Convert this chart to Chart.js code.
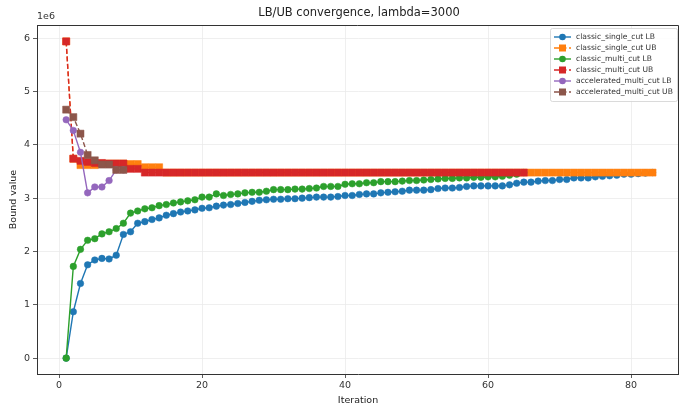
<!DOCTYPE html>
<html>
<head>
<meta charset="utf-8">
<title>LB/UB convergence</title>
<script src="https://cdn.jsdelivr.net/npm/chart.js@4.4.1/dist/chart.umd.min.js"></script>
<style>
  html, body { margin: 0; padding: 0; background: #fff; }
  canvas { display: block; }
</style>
</head>
<body>
<canvas id="grafico" width="679" height="409"></canvas>
<script>
// Bound values per iteration (units of 1e6), iterations start at 1
const singleLB = [
  0.00, 0.87, 1.40, 1.75, 1.84, 1.87, 1.86, 1.93, 2.32, 2.37,
  2.53, 2.56, 2.60, 2.63, 2.68, 2.71, 2.74, 2.76, 2.78, 2.81,
  2.82, 2.85, 2.87, 2.88, 2.90, 2.92, 2.94, 2.96, 2.97, 2.98,
  2.98, 2.99, 2.99, 3.00, 3.01, 3.02, 3.02, 3.02, 3.03, 3.05,
  3.05, 3.07, 3.08, 3.08, 3.10, 3.11, 3.12, 3.13, 3.15, 3.15,
  3.15, 3.16, 3.18, 3.19, 3.19, 3.20, 3.22, 3.23, 3.23, 3.23,
  3.23, 3.23, 3.25, 3.28, 3.30, 3.30, 3.32, 3.33, 3.33, 3.35,
  3.35, 3.38, 3.38, 3.38, 3.40, 3.41, 3.42, 3.43, 3.45, 3.45,
  3.46, 3.47, 3.48
];
const singleUB = [
  5.94, 3.74, 3.62, 3.62, 3.62, 3.65, 3.65, 3.65, 3.65, 3.64,
  3.64, 3.58, 3.58, 3.58, 3.48, 3.48, 3.48, 3.48, 3.48, 3.48,
  3.48, 3.48, 3.48, 3.48, 3.48, 3.48, 3.48, 3.48, 3.48, 3.48,
  3.48, 3.48, 3.48, 3.48, 3.48, 3.48, 3.48, 3.48, 3.48, 3.48,
  3.48, 3.48, 3.48, 3.48, 3.48, 3.48, 3.48, 3.48, 3.48, 3.48,
  3.48, 3.48, 3.48, 3.48, 3.48, 3.48, 3.48, 3.48, 3.48, 3.48,
  3.48, 3.48, 3.48, 3.48, 3.48, 3.48, 3.48, 3.48, 3.48, 3.48,
  3.48, 3.48, 3.48, 3.48, 3.48, 3.48, 3.48, 3.48, 3.48, 3.48,
  3.48, 3.48, 3.48
];
const multiLB = [
  0.00, 1.72, 2.04, 2.21, 2.24, 2.33, 2.37, 2.43, 2.53, 2.72,
  2.76, 2.80, 2.82, 2.86, 2.88, 2.91, 2.93, 2.95, 2.97, 3.02,
  3.02, 3.08, 3.05, 3.07, 3.08, 3.10, 3.11, 3.11, 3.13, 3.16,
  3.16, 3.16, 3.17, 3.17, 3.18, 3.19, 3.22, 3.22, 3.22, 3.26,
  3.27, 3.27, 3.29, 3.29, 3.31, 3.31, 3.31, 3.32, 3.33, 3.33,
  3.34, 3.35, 3.36, 3.37, 3.37, 3.38, 3.38, 3.39, 3.39, 3.40,
  3.40, 3.41, 3.43, 3.45, 3.48
];
const multiUB = [
  5.94, 3.74, 3.70, 3.68, 3.66, 3.66, 3.65, 3.65, 3.65, 3.55,
  3.55, 3.48, 3.48, 3.48, 3.48, 3.48, 3.48, 3.48, 3.48, 3.48,
  3.48, 3.48, 3.48, 3.48, 3.48, 3.48, 3.48, 3.48, 3.48, 3.48,
  3.48, 3.48, 3.48, 3.48, 3.48, 3.48, 3.48, 3.48, 3.48, 3.48,
  3.48, 3.48, 3.48, 3.48, 3.48, 3.48, 3.48, 3.48, 3.48, 3.48,
  3.48, 3.48, 3.48, 3.48, 3.48, 3.48, 3.48, 3.48, 3.48, 3.48,
  3.48, 3.48, 3.48, 3.48, 3.48
];
const accelLB = [4.47, 4.27, 3.86, 3.10, 3.21, 3.21, 3.33, 3.53, 3.53];
const accelUB = [4.66, 4.52, 4.21, 3.81, 3.71, 3.63, 3.63, 3.53, 3.53];

const xTicks = [0, 20, 40, 60, 80];
const yTicks = [0, 1, 2, 3, 4, 5, 6];

const FONT = "'DejaVu Sans', sans-serif";

// turns a list of bounds into {x: iteration, y: bound}
const pontos = (valores) => valores.map((v, i) => ({ x: i + 1, y: v }));

const serie = (label, valores, cor, tipo, ordem) => {
  const ub = tipo === 'UB';
  return {
    label: label,
    data: pontos(valores),
    borderColor: cor,
    backgroundColor: cor,
    borderWidth: 1.4,
    borderDash: ub ? [5, 2.5] : [],
    pointStyle: ub ? 'rect' : 'circle',
    pointRadius: ub ? 5 : 3.3,
    pointBackgroundColor: cor,
    pointBorderColor: cor,
    pointBorderWidth: 0.5,
    tension: 0,
    fill: false,
    order: ordem
  };
};

// title, offset text, top/right spines and the legend box
const extras = {
  id: 'extras',
  afterDraw(chart) {
    const { ctx, chartArea: a } = chart;
    ctx.save();

    ctx.strokeStyle = '#333';
    ctx.lineWidth = 1;
    ctx.beginPath();
    ctx.moveTo(a.left, a.top + 0.5);
    ctx.lineTo(a.right - 0.5, a.top + 0.5);
    ctx.lineTo(a.right - 0.5, a.bottom);
    ctx.stroke();

    ctx.fillStyle = '#222';
    ctx.font = `11.5px ${FONT}`;
    ctx.textAlign = 'center';
    ctx.textBaseline = 'middle';
    ctx.fillText('LB/UB convergence, lambda=3000', 359, 13);

    ctx.font = `9.5px ${FONT}`;
    ctx.textAlign = 'left';
    ctx.fillStyle = '#333';
    ctx.fillText('1e6', a.left, 17);

    // legend
    const bx = 550, by = 28, bw = 127, bh = 73;
    ctx.fillStyle = 'rgba(255,255,255,0.85)';
    ctx.strokeStyle = '#d0d0d0';
    ctx.lineWidth = 0.8;
    ctx.beginPath();
    ctx.roundRect(bx + 0.5, by + 0.5, bw, bh, 2);
    ctx.fill();
    ctx.stroke();

    ctx.font = `7.6px ${FONT}`;
    ctx.textBaseline = 'middle';
    chart.data.datasets.forEach((ds, k) => {
      const y = by + 9 + k * 11;
      const x0 = bx + 4, x1 = bx + 21, xm = (x0 + x1) / 2;
      ctx.strokeStyle = ds.borderColor;
      ctx.lineWidth = 1.4;
      ctx.setLineDash(ds.borderDash);
      ctx.beginPath();
      ctx.moveTo(x0, y);
      ctx.lineTo(x1, y);
      ctx.stroke();
      ctx.setLineDash([]);
      ctx.fillStyle = ds.pointBackgroundColor;
      ctx.beginPath();
      if (ds.pointStyle === 'rect') {
        ctx.rect(xm - 3.5, y - 3.5, 7, 7);
      } else {
        ctx.arc(xm, y, 3.3, 0, Math.PI * 2);
      }
      ctx.fill();
      ctx.fillStyle = '#333';
      ctx.fillText(ds.label, bx + 26, y + 0.5);
    });

    ctx.restore();
  }
};

const canvas = document.getElementById('grafico');
new Chart(canvas.getContext('2d'), {
  type: 'line',
  data: {
    datasets: [
      serie('classic_single_cut LB', singleLB, '#1f77b4', 'LB', 6),
      serie('classic_single_cut UB', singleUB, '#ff7f0e', 'UB', 5),
      serie('classic_multi_cut LB', multiLB, '#2ca02c', 'LB', 4),
      serie('classic_multi_cut UB', multiUB, '#d62728', 'UB', 3),
      serie('accelerated_multi_cut LB', accelLB, '#9467bd', 'LB', 2),
      serie('accelerated_multi_cut UB', accelUB, '#8c564b', 'UB', 1)
    ]
  },
  options: {
    responsive: false,
    devicePixelRatio: 1,
    animation: false,
    layout: { autoPadding: false, padding: { top: 25, right: 0, left: 0, bottom: 0 } },
    plugins: {
      legend: { display: false },
      title: { display: false },
      tooltip: { enabled: false }
    },
    scales: {
      x: {
        type: 'linear',
        min: -3.08,
        max: 86.7,
        afterBuildTicks: (s) => { s.ticks = xTicks.map(v => ({ value: v })); },
        afterFit: (s) => { s.height = 35; },
        grid: { color: '#ebebeb', lineWidth: 0.8, tickLength: 4, tickColor: '#333' },
        border: { color: '#333', width: 1 },
        ticks: { font: { family: FONT, size: 9.5 }, color: '#333', padding: 2, maxRotation: 0 },
        title: { display: true, text: 'Iteration', color: '#222', font: { family: FONT, size: 9.5 }, padding: { top: 0, bottom: 3 } }
      },
      y: {
        type: 'linear',
        min: -0.2975,
        max: 6.2475,
        afterBuildTicks: (s) => { s.ticks = yTicks.map(v => ({ value: v })); },
        afterFit: (s) => { s.width = 37; },
        grid: { color: '#ebebeb', lineWidth: 0.8, tickLength: 4, tickColor: '#333' },
        border: { color: '#333', width: 1 },
        ticks: { font: { family: FONT, size: 9.5 }, color: '#333', padding: 3 },
        title: { display: true, text: 'Bound value', color: '#222', font: { family: FONT, size: 9.5 }, padding: { top: 8, bottom: 0 } }
      }
    }
  },
  plugins: [extras]
});
</script>
</body>
</html>
